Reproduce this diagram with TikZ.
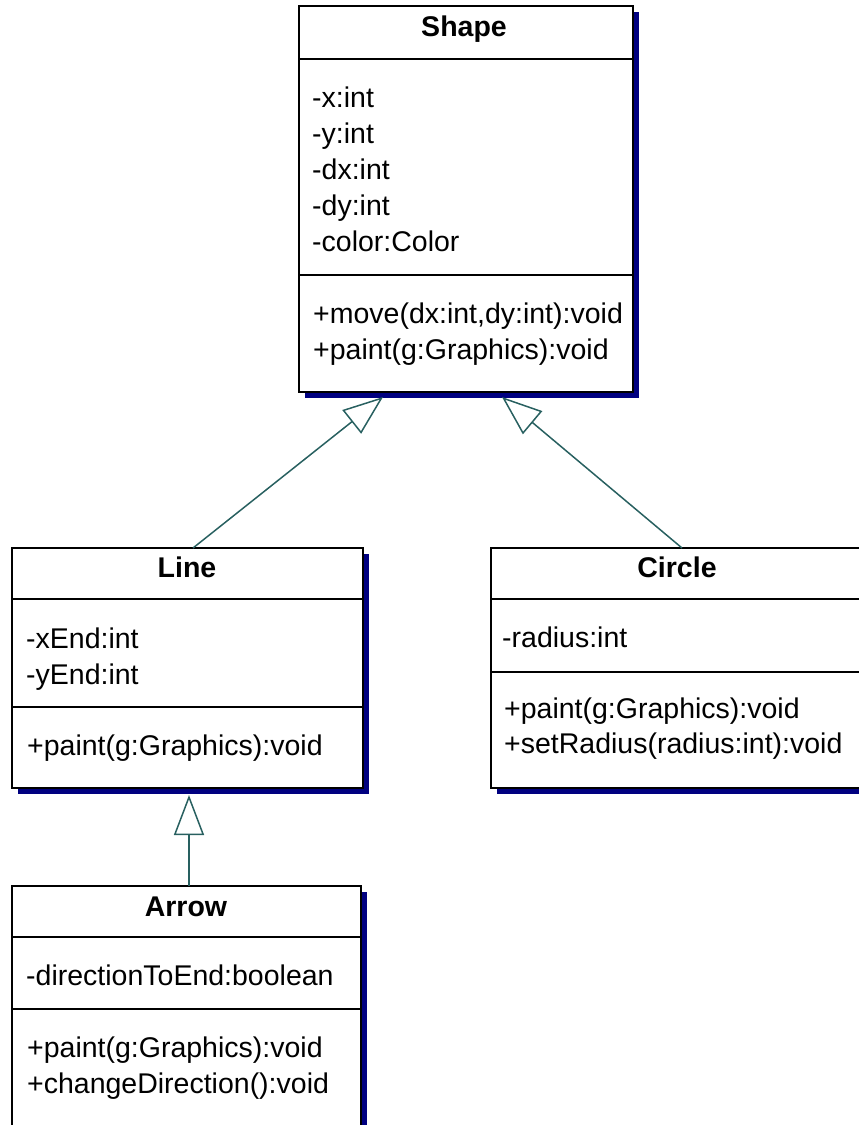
\documentclass[tikz,border=0pt]{standalone}
\usepackage{fontspec}
\setmainfont{Liberation Sans}
\usetikzlibrary{arrows.meta,shadows}
\definecolor{shadowblue}{RGB}{0,0,128}
\definecolor{gencol}{RGB}{40,96,96}
\tikzset{
 cls/.style={draw=black, line width=2pt, fill=white, inner sep=0pt, outer sep=0pt,
   drop shadow={shadow xshift=6pt, shadow yshift=-6pt, fill=shadowblue, opacity=1}},
 divider/.style={draw=black, line width=2pt},
 title/.style={font=\fontsize{28.5}{36}\selectfont\bfseries, anchor=base, inner sep=0pt},
 member/.style={font=\fontsize{28.5}{36}\selectfont, anchor=base west, inner sep=0pt},
 gen/.style={draw=gencol, line width=1.5pt, -{Triangle[open, length=40pt, width=30pt, line width=1.5pt]}},
}
\begin{document}
\begin{tikzpicture}[x=1pt,y=-1pt]
\useasboundingbox (0,0) rectangle (859,1125);
\clip (0,0) rectangle (859,1125);
% class boxes
\node[cls, minimum width=334pt, minimum height=386pt] (shape) at (466,199) {};
\node[cls, minimum width=351pt, minimum height=240pt] (line) at (187.5,668) {};
\node[cls, minimum width=371pt, minimum height=240pt] (circle) at (676.5,668) {};
\node[cls, minimum width=349pt, minimum height=254pt] (arrow) at (186.5,1013) {};
% dividers
\draw[divider] (shape.west |- 0,59) -- (shape.east |- 0,59);
\draw[divider] (shape.west |- 0,275) -- (shape.east |- 0,275);
\draw[divider] (line.west |- 0,599) -- (line.east |- 0,599);
\draw[divider] (line.west |- 0,707) -- (line.east |- 0,707);
\draw[divider] (circle.west |- 0,599) -- (circle.east |- 0,599);
\draw[divider] (circle.west |- 0,672) -- (circle.east |- 0,672);
\draw[divider] (arrow.west |- 0,937) -- (arrow.east |- 0,937);
\draw[divider] (arrow.west |- 0,1009) -- (arrow.east |- 0,1009);
% Shape
\node[title] (shapeT) at (464,36) {Shape};
\node[member] (sa1) at (312,107) {-x:int};
\node[member] (sa2) at (312,143) {-y:int};
\node[member] (sa3) at (312,179) {-dx:int};
\node[member] (sa4) at (312,215) {-dy:int};
\node[member] (sa5) at (312,251) {-color:Color};
\node[member] (sm1) at (313,323) {+move(dx:int,dy:int):void};
\node[member] (sm2) at (313,359) {+paint(g:Graphics):void};
% Line
\node[title] (lineT) at (187,577) {Line};
\node[member] (la1) at (26,648) {-xEnd:int};
\node[member] (la2) at (26,684) {-yEnd:int};
\node[member] (lm1) at (27,755) {+paint(g:Graphics):void};
% Circle
\node[title] (circleT) at (677,577) {Circle};
\node[member] (ca1) at (502,647) {-radius:int};
\node[member] (cm1) at (504,718) {+paint(g:Graphics):void};
\node[member] (cm2) at (504,753) {+setRadius(radius:int):void};
% Arrow
\node[title] (arrowT) at (186,916) {Arrow};
\node[member] (aa1) at (26,985) {-directionToEnd:boolean};
\node[member] (am1) at (27,1057) {+paint(g:Graphics):void};
\node[member] (am2) at (27,1093) {+changeDirection():void};
% generalizations
\draw[gen] ([xshift=5.5pt]line.north) -- ([xshift=-83pt,yshift=-5pt]shape.south);
\draw[gen] ([xshift=5.5pt]circle.north) -- ([xshift=36pt,yshift=-5pt]shape.south);
\draw[gen] ([xshift=2.5pt]arrow.north) -- ([xshift=1.5pt,yshift=-7pt]line.south);
\end{tikzpicture}
\end{document}
